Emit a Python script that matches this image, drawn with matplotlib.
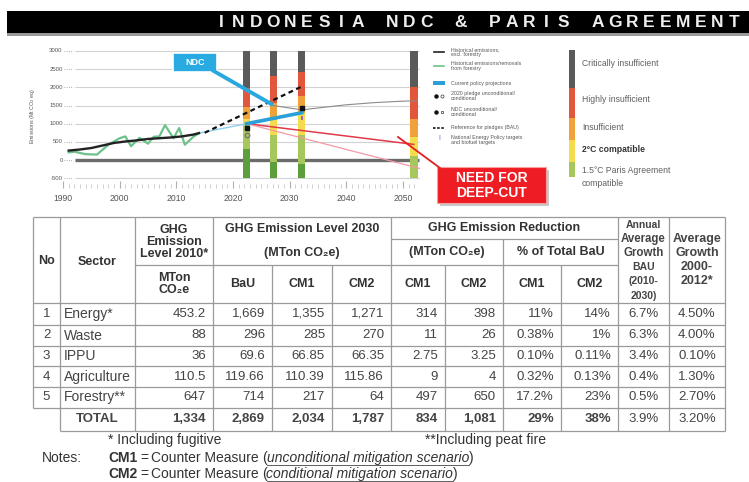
import matplotlib
matplotlib.use("Agg")
import matplotlib.pyplot as plt
from matplotlib.patches import Rectangle

plt.rcParams['font.family'] = ['Liberation Sans', 'DejaVu Sans']

# ---- chart data (Mt CO2e) ----
hist_years = [1991, 1993, 1995, 1997, 1999, 2001, 2003, 2005, 2007, 2009, 2011, 2013, 2014]
hist_vals = [260, 290, 330, 400, 470, 510, 540, 580, 600, 620, 650, 700, 740]

forest_years = [1991, 1992, 1994, 1996, 1998, 2000, 2001, 2002, 2003.5, 2005, 2006, 2007,
                2008, 2009.5, 2010.5, 2011.5, 2013, 2014]
forest_vals = [210, 230, 160, 150, 420, 600, 650, 380, 610, 450, 640, 650,
               960, 600, 880, 420, 640, 740]

policy_years = [2014, 2022.4]
policy_vals = [740, 1000]
ndc_years = [2022.4, 2032.1]
ndc_vals = [1000, 1300]
bau_years = [2015, 2032.1]
bau_vals = [750, 2020]
gray_years = [2027.1, 2032.1, 2036, 2040, 2045, 2050, 2052.5]
gray_vals = [1500, 1380, 1450, 1520, 1580, 1620, 1630]
red_years = [2022.4, 2051.9]
red_vals = [1000, 430]
pink_years = [2022.4, 2052.9]
pink_vals = [1000, -230]

pledge_sq_years = [2022.4, 2032.1]
pledge_sq_vals = [890, 1430]
pledge_circ_years = [2022.4]
pledge_circ_vals = [690]
nep_year = 2032.1
nep_range = [1100, 1220]

# rating bars: boundaries from bottom to top for each year
bar_years = [2022.4, 2027.1, 2032.1, 2051.9]
bar_bounds = [
    [-500, 300, 950, 1130, 1470, 1970, 3000],
    [-500, -50, 690, 1100, 1580, 2320, 3000],
    [-500, -100, 700, 1300, 1770, 2420, 3000],
    [-500, -500, 120, 640, 1130, 2000, 3000],
]
rating_colors = ['#5c9e3c', '#a6c75c', '#f4dc4c', '#f0a23a', '#e2573c', '#5a5a5a']
rating_labels = ['Critically insufficient', 'Highly insufficient', 'Insufficient',
                 '2°C compatible', '1.5°C Paris Agreement\ncompatible']

y_ticks = [3000, 2500, 2000, 1500, 1000, 500, 0, -500]
x_ticks = [1990, 2000, 2010, 2020, 2030, 2040, 2050]

# ---- table data ----
nos = ['1', '2', '3', '4', '5']
sectors = ['Energy*', 'Waste', 'IPPU', 'Agriculture', 'Forestry**']
lvl2010 = ['453.2', '88', '36', '110.5', '647']
bau2030 = ['1,669', '296', '69.6', '119.66', '714']
cm1_2030 = ['1,355', '285', '66.85', '110.39', '217']
cm2_2030 = ['1,271', '270', '66.35', '115.86', '64']
red_cm1 = ['314', '11', '2.75', '9', '497']
red_cm2 = ['398', '26', '3.25', '4', '650']
pct_cm1 = ['11%', '0.38%', '0.10%', '0.32%', '17.2%']
pct_cm2 = ['14%', '1%', '0.11%', '0.13%', '23%']
growth_bau = ['6.7%', '6.3%', '3.4%', '0.4%', '0.5%']
growth_hist = ['4.50%', '4.00%', '0.10%', '1.30%', '2.70%']
totals = ['1,334', '2,869', '2,034', '1,787', '834', '1,081', '29%', '38%', '3.9%', '3.20%']

W, H = 749, 482
fig = plt.figure(figsize=(7.49, 4.82), dpi=100)


def fx(px):
    return px / W


def fy(py):
    return 1 - py / H


# ---- chart ----
ax = fig.add_axes([fx(58), fy(188), fx(420) - fx(58), fy(45) - fy(188)])
ax.set_xlim(1989.12, 2052.99)
ax.set_ylim(-770, 3165)
for s in ax.spines.values():
    s.set_visible(False)

for v in y_ticks:
    if v == 0:
        ax.hlines(v, 1992.1, 2052.9, color='#6b6b6b', lw=2.4, zorder=1)
    else:
        ax.hlines(v, 1992.1, 2052.9, color='#d2d2d2', lw=0.8, zorder=1)
    ax.hlines(v, 1990.1, 1991.8, color='#999999', lw=0.6, linestyles=':')
    ax.text(1989.95, v, str(v), ha='right', va='center', fontsize=4.3, color='#555555')

ax.set_yticks([])
ax.set_xticks(x_ticks)
ax.set_xticklabels([str(x) for x in x_ticks], fontsize=6.2, color='#555555')
ax.set_xticks(range(1990, 2053), minor=True)
ax.tick_params(axis='x', which='major', direction='in', length=5, color='#b0b0b0', pad=4)
ax.tick_params(axis='x', which='minor', direction='in', length=3, color='#c8c8c8')
ax.set_ylabel('Emissions (Mt CO$_2$ eq)', fontsize=3.8, color='#555555', labelpad=15)

for yr, bounds in zip(bar_years, bar_bounds):
    for i, c in enumerate(rating_colors):
        ax.bar(yr, bounds[i + 1] - bounds[i], bottom=bounds[i], width=1.3,
               color=c, lw=0, zorder=2)

ax.plot(forest_years, forest_vals, color='#6cc28a', lw=1.6, zorder=3)
ax.plot(hist_years, hist_vals, color='#222222', lw=1.7, zorder=4)
ax.plot(policy_years, policy_vals, color='#8fd0ee', lw=1.0, zorder=3)
ax.plot(ndc_years, ndc_vals, color='#2a9fd8', lw=2.6, zorder=4)
ax.plot(bau_years, bau_vals, color='#111111', lw=1.6, ls=(0, (2.2, 1.6)), zorder=5)
ax.plot(gray_years, gray_vals, color='#8a8a8a', lw=0.8, zorder=3)
ax.plot(red_years, red_vals, color='#e03a4a', lw=1.1, zorder=3)
ax.plot(pink_years, pink_vals, color='#f29aa6', lw=0.9, zorder=3, clip_on=False)
ax.plot(pledge_sq_years, pledge_sq_vals, 's', color='#111111', ms=3.2, zorder=6)
ax.plot(pledge_circ_years, pledge_circ_vals, 'o', mfc='none', mec='#777777', ms=3.2, zorder=6)
ax.vlines(nep_year, nep_range[0], nep_range[1], color='#7a5bc0', lw=1.2, zorder=6)

# ---- overlay in pixel coordinates ----
ov = fig.add_axes([0, 0, 1, 1], zorder=3)
ov.set_xlim(0, W)
ov.set_ylim(H, 0)
ov.axis('off')

# banner
ov.add_patch(Rectangle((7, 11), 742, 22, fc='black', ec='none'))
ov.add_patch(Rectangle((7, 33), 742, 2.5, fc='#9a9a9a', ec='none'))
title = 'INDONESIA NDC & PARIS AGREEMENT'
for i, ch in enumerate(title):
    ov.text(213 + 8.5 + 17.1 * i, 22.5, ch, ha='center', va='center',
            fontsize=12.5, color='#eeeeee', weight='bold')

# NDC callout
ov.plot([212, 273], [70, 105], color='#29a8e0', lw=2.8, solid_capstyle='butt')
ov.add_patch(Rectangle((173, 53), 44, 19, fc='#29abe2', ec='white', lw=1.2))
ov.text(195, 62.5, 'NDC', ha='center', va='center', fontsize=6.5, color='white', weight='bold')

# need for deep cut
ov.plot([398, 440], [137, 168], color='#e02020', lw=1.3)
ov.add_patch(Rectangle((439.5, 169.5), 109, 36, fc='#c9c9c9', ec='none'))
ov.add_patch(Rectangle((437, 167), 109, 36, fc='#ee1d23', ec='#f5a0a0', lw=0.8))
ov.text(491.5, 185.5, 'NEED FOR\nDEEP-CUT', ha='center', va='center', fontsize=10,
        color='white', weight='bold', linespacing=1.15)

# middle legend
lg_txt = dict(fontsize=3.8, color='#555555', va='center', ha='left', linespacing=1.1)
ov.plot([434, 444], [52, 52], color='#222222', lw=1.2)
ov.text(451, 52, 'Historical emissions,\nexcl. forestry', **lg_txt)
ov.plot([434, 444], [66, 66], color='#6cc28a', lw=1.2)
ov.text(451, 66, 'Historical emissions/removals\nfrom forestry', **lg_txt)
ov.add_patch(Rectangle((433, 81), 12, 4, fc='#2a9fd8', ec='none'))
ov.text(451, 83, 'Current policy projections', **lg_txt)
ov.plot([436], [96], 'o', color='#111111', ms=2.2)
ov.plot([442], [96], 'o', mfc='none', mec='#555555', ms=2.2, mew=0.6)
ov.text(451, 96, '2020 pledge unconditional/\nconditional', **lg_txt)
ov.plot([436], [112], 'o', color='#111111', ms=2.2)
ov.plot([442], [112], 's', mfc='none', mec='#555555', ms=2.0, mew=0.6)
ov.text(451, 112, 'NDC unconditional/\nconditional', **lg_txt)
ov.plot([433, 445], [128, 128], color='#111111', lw=1.2, ls=(0, (1.5, 1)))
ov.text(451, 128, 'Reference for pledges (BAU)', **lg_txt)
ov.text(439, 139, 'I', ha='center', va='center', fontsize=5, color='#7a5bc0')
ov.text(451, 140, 'National Energy Policy targets\nand biofuel targets', **lg_txt)

# rating legend
leg_edges = [50, 88, 118, 140, 162, 177]
for i, c in enumerate(rating_colors[::-1][:5]):
    col = c if i < 4 else rating_colors[1]
    ov.add_patch(Rectangle((569, leg_edges[i]), 6, leg_edges[i + 1] - leg_edges[i], fc=col, ec='none'))
leg_y = [63, 99, 128, 150, 177]
for lab, yy in zip(rating_labels, leg_y):
    bold = lab.startswith('2')
    ov.text(582, yy, lab, ha='left', va='center', fontsize=6.2,
            color='#333333' if bold else '#606060', weight='bold' if bold else 'normal',
            linespacing=1.45)

# ---- table ----
cx = [33, 60, 135, 213, 272, 332, 391, 445, 503, 561, 618, 669, 725]
ry = [217, 239, 265, 303, 325, 346, 366, 387, 408, 431]
lc = '#9a9a9a'


def hl(y, x0, x1):
    ov.plot([x0, x1], [y, y], color=lc, lw=0.9, solid_capstyle='butt')


def vl(x, y0, y1):
    ov.plot([x, x], [y0, y1], color=lc, lw=0.9, solid_capstyle='butt')


hl(ry[0], cx[0], cx[-1])
hl(ry[1], cx[6], cx[10])
hl(ry[2], cx[2], cx[10])
for y in ry[3:9]:
    hl(y, cx[0], cx[-1])
hl(ry[9], cx[1], cx[-1])
vl(cx[0], ry[0], ry[8])
for k in [1, 2, 3, 6, 10, 11, 12]:
    vl(cx[k], ry[0], ry[9])
for k in [4, 5, 7, 9]:
    vl(cx[k], ry[2], ry[9])
vl(cx[8], ry[1], ry[9])

hd = dict(ha='center', va='center', fontsize=9, weight='bold', color='#333333')
ov.text(46.5, 261, 'No', **hd)
ov.text(97.5, 262, 'Sector', **hd)
ov.text(174, 242, 'GHG\nEmission\nLevel 2010*', linespacing=1.05, **hd)
ov.text(174, 284, 'MTon\nCO\u2082e', linespacing=1.05, **hd)
ov.text(302, 229, 'GHG Emission Level 2030', **hd)
ov.text(302, 253, '(MTon CO\u2082e)', **hd)
for k, lab in zip([3, 4, 5, 6, 7, 8, 9], ['BaU', 'CM1', 'CM2', 'CM1', 'CM2', 'CM1', 'CM2']):
    ov.text((cx[k] + cx[k + 1]) / 2, 284, lab, **hd)
ov.text(504.5, 228, 'GHG Emission Reduction', **hd)
ov.text(447, 252, '(MTon CO\u2082e)', **hd)
ov.text(560.5, 252, '% of Total BaU', **hd)
ov.text(643.5, 225, 'Annual', ha='center', va='center', fontsize=7.5, weight='bold', color='#444444')
for yy, lab, fs in [(239, 'Average', 8.3), (253, 'Growth', 8.3), (267, 'BAU', 7.5),
                    (281, '(2010-', 7.5), (296, '2030)', 7.5)]:
    ov.text(643.5, yy, lab, ha='center', va='center', fontsize=fs, weight='bold', color='#444444')
for yy, lab in [(239, 'Average'), (253, 'Growth'), (267, '2000-'), (281, '2012*')]:
    ov.text(697, yy, lab, ha='center', va='center', fontsize=9, weight='bold', color='#444444')

num_cols = [lvl2010, bau2030, cm1_2030, cm2_2030, red_cm1, red_cm2, pct_cm1, pct_cm2]
dt = dict(va='center', fontsize=9.5, color='#444444')
for i in range(5):
    yc = (ry[3 + i] + ry[4 + i]) / 2
    ov.text(46.5, yc, nos[i], ha='center', **dt)
    ov.text(64, yc, sectors[i], ha='left', va='center', fontsize=10, color='#444444')
    for j, col in enumerate(num_cols):
        ov.text(cx[j + 3] - 7, yc, col[i], ha='right', **dt)
    ov.text(643.5, yc, growth_bau[i], ha='center', **dt)
    ov.text(697, yc, growth_hist[i], ha='center', **dt)

yc = (ry[8] + ry[9]) / 2
ov.text(97.5, yc, 'TOTAL', ha='center', weight='bold', **dt)
for j in range(8):
    ov.text(cx[j + 3] - 7, yc, totals[j], ha='right', weight='bold', **dt)
ov.text(643.5, yc, totals[8], ha='center', **dt)
ov.text(697, yc, totals[9], ha='center', **dt)

# ---- notes ----
nt = dict(va='center', fontsize=10, color='#333333')
ov.text(108, 440, '* Including fugitive', ha='left', **nt)
ov.text(425, 440, '**Including peat fire', ha='left', **nt)
ov.text(42, 458, 'Notes:', ha='left', **nt)

fig.canvas.draw()
rend = fig.canvas.get_renderer()


def run(parts, x, y):
    for s, style, ul in parts:
        if s == ' ':
            x += 3
            continue
        t = ov.text(x, y, s, ha='left', style=style[0], weight=style[1], **nt)
        w = t.get_window_extent(renderer=rend).width
        if ul:
            ov.plot([x, x + w], [y + 6.5, y + 6.5], color='#444444', lw=0.6)
        x += w


for lab, scen, yy in [('CM1', 'unconditional mitigation scenario', 458),
                      ('CM2', 'conditional mitigation scenario', 474)]:
    run([(lab, ('normal', 'bold'), False), (' ', None, False),
         ('=', ('normal', 'normal'), False), (' ', None, False),
         ('Counter Measure', ('normal', 'normal'), False), (' ', None, False),
         ('(', ('normal', 'normal'), False),
         (scen, ('italic', 'normal'), True),
         (')', ('normal', 'normal'), False)], 108, yy)

fig.savefig('out.png', dpi=100)
